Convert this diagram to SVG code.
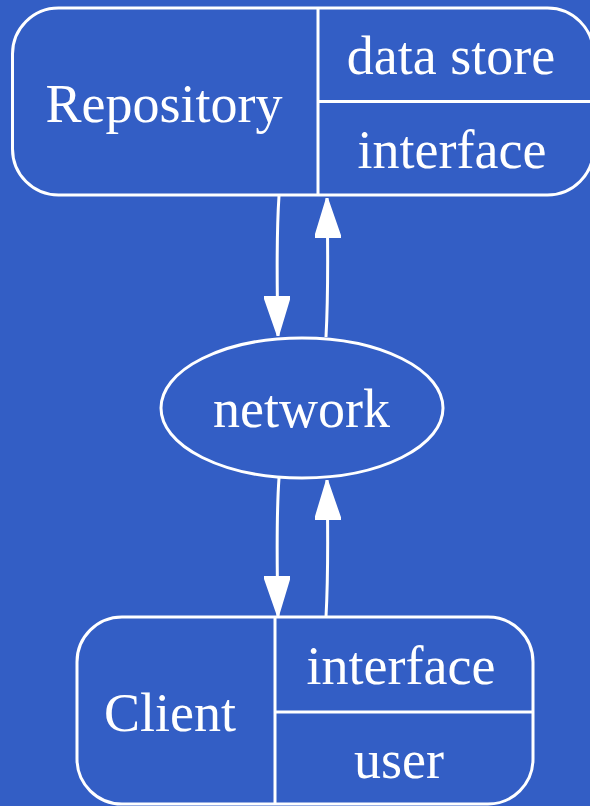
<svg xmlns="http://www.w3.org/2000/svg" width="590" height="806" viewBox="0 0 590 806">
<style>
.s{fill:none;stroke:#fff;stroke-width:3}
.t{font-family:"Liberation Serif","Times New Roman",serif;font-size:54px;fill:#fff;text-anchor:middle}
</style>
<defs>
<marker id="ah" viewBox="0 0 40 26" refX="40" refY="13" markerWidth="40" markerHeight="26" markerUnits="userSpaceOnUse" orient="auto">
<path d="M0,0 L40,13 L0,26 Z" fill="#fff" stroke="#fff" stroke-width="2" stroke-linejoin="round"/>
</marker>
</defs>
<rect width="590" height="806" fill="#335ec5"/>
<g id="repository">
<rect class="s" x="12.5" y="8" width="581" height="187" rx="46" ry="46"/>
<line class="s" x1="318" y1="8" x2="318" y2="195"/>
<line class="s" x1="318" y1="101.5" x2="593" y2="101.5"/>
<text class="t" x="164" y="122">Repository</text>
<text class="t" x="451" y="74">data store</text>
<text class="t" x="452" y="168">interface</text>
</g>
<g id="network">
<ellipse class="s" cx="302" cy="408" rx="141" ry="70"/>
<text class="t" x="301.5" y="427">network</text>
</g>
<g id="client">
<rect class="s" x="77" y="617" width="456" height="187" rx="45" ry="45"/>
<line class="s" x1="275" y1="617" x2="275" y2="804"/>
<line class="s" x1="275" y1="712" x2="533" y2="712"/>
<text class="t" x="170" y="731">Client</text>
<text class="t" x="401" y="684">interface</text>
<text class="t" x="399" y="778">user</text>
</g>
<g id="connectors">
<path class="s" d="M279,196 C276,240 277,290 278,336" marker-end="url(#ah)"/>
<path class="s" d="M326,337 C328,300 328,250 327,198" marker-end="url(#ah)"/>
<path class="s" d="M279,478 C276,520 277,570 278,616" marker-end="url(#ah)"/>
<path class="s" d="M326,617 C328,580 328,530 327,480" marker-end="url(#ah)"/>
</g>
</svg>
